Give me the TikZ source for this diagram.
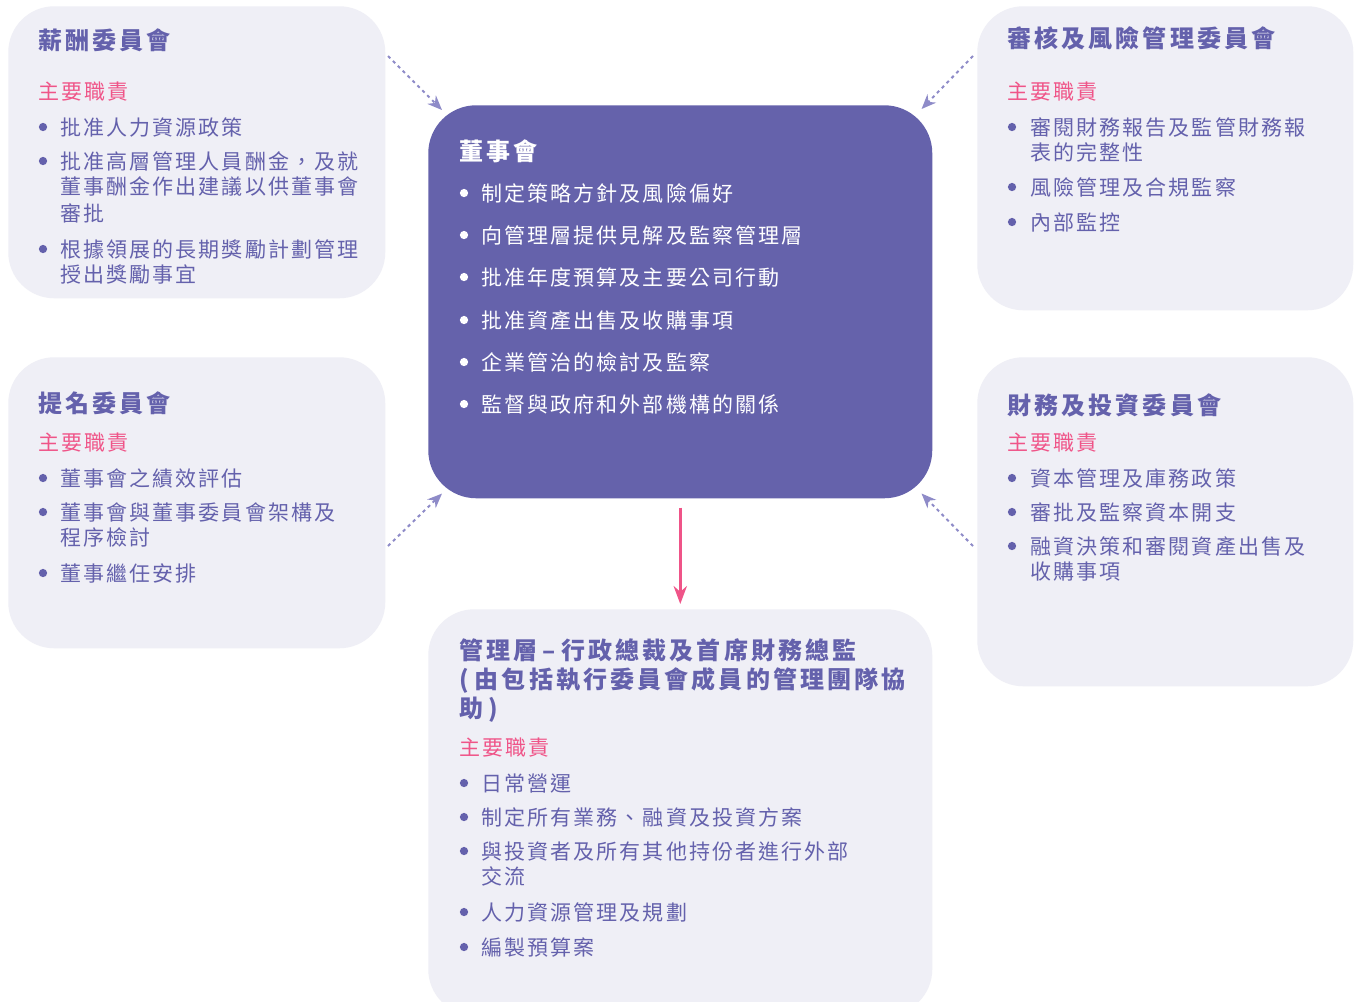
\documentclass[tikz,border=0pt]{standalone}
\usepackage{fontspec}
\setmainfont{Noto Sans CJK TC}
\newfontfamily\bodyfont[LetterSpace=10]{Noto Sans CJK TC}
\newfontfamily\headfont[LetterSpace=13]{Noto Sans CJK TC}
\usetikzlibrary{arrows.meta}
\definecolor{boxbg}{HTML}{EFEFF6}
\definecolor{boardc}{HTML}{6562AB}
\definecolor{ink}{HTML}{6461AC}
\definecolor{pinkc}{HTML}{EF5488}
\definecolor{dashc}{HTML}{8E8BC8}
\tikzset{
  lbox/.style={fill=boxbg, rounded corners=34.5pt, anchor=north west, inner sep=0pt, draw=none},
  bbox/.style={fill=boardc, rounded corners=36pt, anchor=north west, inner sep=0pt, draw=none},
  head/.style={anchor=base west, inner sep=0pt, text=ink, yshift=-0.3pt, font=\headfont\bfseries\fontsize{18pt}{21pt}\selectfont},
  duty/.style={anchor=base west, inner sep=0pt, text=pinkc, yshift=-0.3pt, font=\bodyfont\fontsize{15.75pt}{18pt}\selectfont},
  txt/.style={anchor=base west, inner sep=0pt, text=ink, yshift=-0.3pt, font=\bodyfont\fontsize{15.75pt}{18pt}\selectfont},
  wtxt/.style={txt, text=white},
  whead/.style={head, text=white},
  dot/.style={circle, fill=ink, inner sep=0pt, minimum size=6.2pt, draw=none},
  wdot/.style={dot, fill=white},
  dasharrow/.style={draw=dashc, line width=1.5pt, dash pattern=on 2.4pt off 2.8pt, -{Stealth[length=11pt, width=9pt]}},
  pinkarrow/.style={draw=pinkc, line width=2pt, -{Stealth[length=13.5pt, width=10pt]}}
}
\begin{document}
\begin{tikzpicture}[x=0.75pt, y=-0.75pt]
\fill[white] (0,0) rectangle (1358,1001);
\useasboundingbox (0,0) rectangle (1358,1001);

% boxes
\node[lbox, minimum width=282.75pt, minimum height=219pt] (rem) at (8,6) {};
\node[lbox, minimum width=282pt, minimum height=228pt] (aud) at (977,6) {};
\node[lbox, minimum width=282.75pt, minimum height=218.25pt] (nom) at (8,357) {};
\node[lbox, minimum width=282pt, minimum height=246.75pt] (fin) at (977,357) {};
\node[bbox, minimum width=378pt, minimum height=294.75pt] (board) at (428,105) {};
\node[lbox, minimum width=378pt, minimum height=304.5pt] (mgmt) at (428,609) {};

% connectors
\coordinate (a1) at (388,56);
\coordinate (a2) at (973,56);
\coordinate (a3) at (388,546);
\coordinate (a4) at (973,546);
\draw[dasharrow] (a1) -- ([shift={(14,5)}]board.north west);
\draw[dasharrow] (a2) -- ([shift={(-11,4)}]board.north east);
\draw[dasharrow] (a3) -- ([shift={(14,-5)}]board.south west);
\draw[dasharrow] (a4) -- ([shift={(-11,-5)}]board.south east);
\draw[pinkarrow] ([shift={(0,9)}]board.south) -- ([shift={(0,-5)}]mgmt.north);

% remuneration committee
\node[head] (remh) at (38,48.7) {薪酬委員會};
\node[duty] (remd) at (38,98.6) {主要職責};
\node[dot] (remb1) at (43,127) {};
\node[txt] (remt1) at (60,134.6) {批准人力資源政策};
\node[dot] (remb2) at (43,161) {};
\node[txt] (remt2a) at (60,168.6) {批准高層管理人員酬金，及就};
\node[txt] (remt2b) at (60,193.6) {董事酬金作出建議以供董事會};
\node[txt] (remt2c) at (60,220.6) {審批};
\node[dot] (remb3) at (43,249) {};
\node[txt] (remt3a) at (60,256.6) {根據領展的長期獎勵計劃管理};
\node[txt] (remt3b) at (60,281.6) {授出獎勵事宜};

% audit and risk committee
\node[head] (audh) at (1007,46.7) {審核及風險管理委員會};
\node[duty] (audd) at (1007,98.6) {主要職責};
\node[dot] (audb1) at (1012,127) {};
\node[txt] (audt1a) at (1030,134.6) {審閱財務報告及監管財務報};
\node[txt] (audt1b) at (1030,159.6) {表的完整性};
\node[dot] (audb2) at (1012,187) {};
\node[txt] (audt2) at (1030,194.6) {風險管理及合規監察};
\node[dot] (audb3) at (1012,222) {};
\node[txt] (audt3) at (1030,229.6) {內部監控};

% nomination committee
\node[head] (nomh) at (38,411.7) {提名委員會};
\node[duty] (nomd) at (38,449.6) {主要職責};
\node[dot] (nomb1) at (43,478) {};
\node[txt] (nomt1) at (60,485.6) {董事會之績效評估};
\node[dot] (nomb2) at (43,512) {};
\node[txt] (nomt2a) at (60,519.6) {董事會與董事委員會架構及};
\node[txt] (nomt2b) at (60,544.6) {程序檢討};
\node[dot] (nomb3) at (43,573) {};
\node[txt] (nomt3) at (60,580.6) {董事繼任安排};

% finance and investment committee
\node[head] (finh) at (1007,413.7) {財務及投資委員會};
\node[duty] (find) at (1007,449.6) {主要職責};
\node[dot] (finb1) at (1012,478) {};
\node[txt] (fint1) at (1030,485.6) {資本管理及庫務政策};
\node[dot] (finb2) at (1012,512) {};
\node[txt] (fint2) at (1030,519.6) {審批及監察資本開支};
\node[dot] (finb3) at (1012,546) {};
\node[txt] (fint3a) at (1030,553.6) {融資決策和審閱資產出售及};
\node[txt] (fint3b) at (1030,578.6) {收購事項};

% board
\node[whead] (boardh) at (459,159.7) {董事會};
\node[wdot] (bb1) at (464,193) {};
\node[wtxt] (bt1) at (481,200.6) {制定策略方針及風險偏好};
\node[wdot] (bb2) at (464,235) {};
\node[wtxt] (bt2) at (481,242.6) {向管理層提供見解及監察管理層};
\node[wdot] (bb3) at (464,277) {};
\node[wtxt] (bt3) at (481,284.6) {批准年度預算及主要公司行動};
\node[wdot] (bb4) at (464,320) {};
\node[wtxt] (bt4) at (481,327.6) {批准資產出售及收購事項};
\node[wdot] (bb5) at (464,362) {};
\node[wtxt] (bt5) at (481,369.6) {企業管治的檢討及監察};
\node[wdot] (bb6) at (464,404) {};
\node[wtxt] (bt6) at (481,411.6) {監督與政府和外部機構的關係};

% management
\node[head] (mgh1) at (459,658.7) {管理層\hspace{4pt}–\hspace{4pt}行政總裁及首席財務總監};
\node[head] (mgh2) at (459,687.7) {(\hspace{4.5pt}由包括執行委員會成員的管理團隊協};
\node[head] (mgh3) at (459,716.7) {助\hspace{4pt})};
\node[duty] (mgd) at (459,754.6) {主要職責};
\node[dot] (mb1) at (464,783) {};
\node[txt] (mt1) at (481,790.6) {日常營運};
\node[dot] (mb2) at (464,817) {};
\node[txt] (mt2) at (481,824.6) {制定所有業務、融資及投資方案};
\node[dot] (mb3) at (464,851) {};
\node[txt] (mt3a) at (481,858.6) {與投資者及所有其他持份者進行外部};
\node[txt] (mt3b) at (481,883.6) {交流};
\node[dot] (mb4) at (464,912) {};
\node[txt] (mt4) at (481,919.6) {人力資源管理及規劃};
\node[dot] (mb5) at (464,947) {};
\node[txt] (mt5) at (481,954.6) {編製預算案};
\end{tikzpicture}
\end{document}
